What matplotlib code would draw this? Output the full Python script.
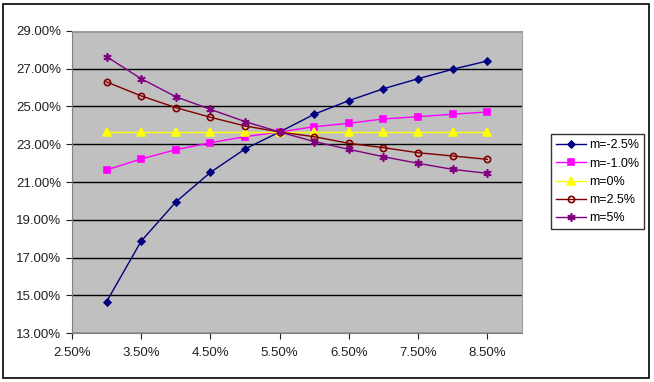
import matplotlib.pyplot as plt
from matplotlib.patches import Rectangle
from matplotlib.ticker import FuncFormatter

# data (rates in %)
rates = [3.0, 3.5, 4.0, 4.5, 5.0, 5.5, 6.0, 6.5, 7.0, 7.5, 8.0, 8.5]
m_neg25 = [14.66, 17.87, 19.94, 21.51, 22.75, 23.65, 24.59, 25.31, 25.94, 26.47, 26.97, 27.41]
m_neg10 = [21.64, 22.22, 22.71, 23.08, 23.40, 23.65, 23.93, 24.11, 24.34, 24.46, 24.59, 24.71]
m_0 = [23.63] * 12
m_25 = [26.30, 25.56, 24.94, 24.43, 23.97, 23.65, 23.40, 23.05, 22.82, 22.55, 22.38, 22.20]
m_5 = [27.64, 26.47, 25.52, 24.85, 24.20, 23.65, 23.14, 22.73, 22.34, 21.99, 21.67, 21.46]
x_ticks = [2.5, 3.5, 4.5, 5.5, 6.5, 7.5, 8.5]
y_ticks = [13, 15, 17, 19, 21, 23, 25, 27, 29]

plt.rcParams['font.family'] = ['Liberation Sans', 'DejaVu Sans']

fig = plt.figure(figsize=(6.54, 3.82), dpi=100)
fig.patches.append(Rectangle((0.005, 0.01), 0.988, 0.98, transform=fig.transFigure,
                             fill=False, edgecolor='black', linewidth=1.2))
ax = fig.add_axes([0.110, 0.128, 0.688, 0.791])
ax.set_facecolor('#C0C0C0')

series = [
    (m_neg25, 'm=-2.5%', '#000080', 'D', '#000080', 3.5),
    (m_neg10, 'm=-1.0%', '#FF00FF', 's', '#FF00FF', 4.5),
    (m_0, 'm=0%', '#FFFF00', '^', '#FFFF00', 5.5),
    (m_25, 'm=2.5%', '#800000', 'o', 'none', 4.5),
    (m_5, 'm=5%', '#800080', (6, 2, 0), '#800080', 6),
]
for vals, lab, col, mk, fc, ms in series:
    ax.plot(rates, vals, color=col, linewidth=1.0, marker=mk, markersize=ms,
            markerfacecolor=fc, markeredgecolor=col, markeredgewidth=1.2, label=lab)

ax.set_xlim(2.5, 9.0)
ax.set_ylim(13, 29)
ax.set_xticks(x_ticks)
ax.set_yticks(y_ticks)
ax.xaxis.set_major_formatter(FuncFormatter(lambda v, p: '%.2f%%' % v))
ax.yaxis.set_major_formatter(FuncFormatter(lambda v, p: '%.2f%%' % v))
ax.tick_params(labelsize=9.5, colors='#222222', length=4, direction='out')
ax.tick_params(axis='x', pad=6)
ax.grid(axis='y', color='black', linewidth=1.0)
ax.set_axisbelow(True)
for s in ['top', 'right']:
    ax.spines[s].set_color('#A0A0A0')
for s in ['left', 'bottom']:
    ax.spines[s].set_color('#808080')

leg = ax.legend(loc='upper left', bbox_to_anchor=(0.843, 0.648), bbox_transform=fig.transFigure,
                fontsize=9, frameon=True, fancybox=False, edgecolor='black',
                borderpad=0.4, labelspacing=0.5, handlelength=2.4, handletextpad=0.2,
                borderaxespad=0)
leg.get_frame().set_linewidth(1.0)

plt.savefig('out.png', dpi=100)
